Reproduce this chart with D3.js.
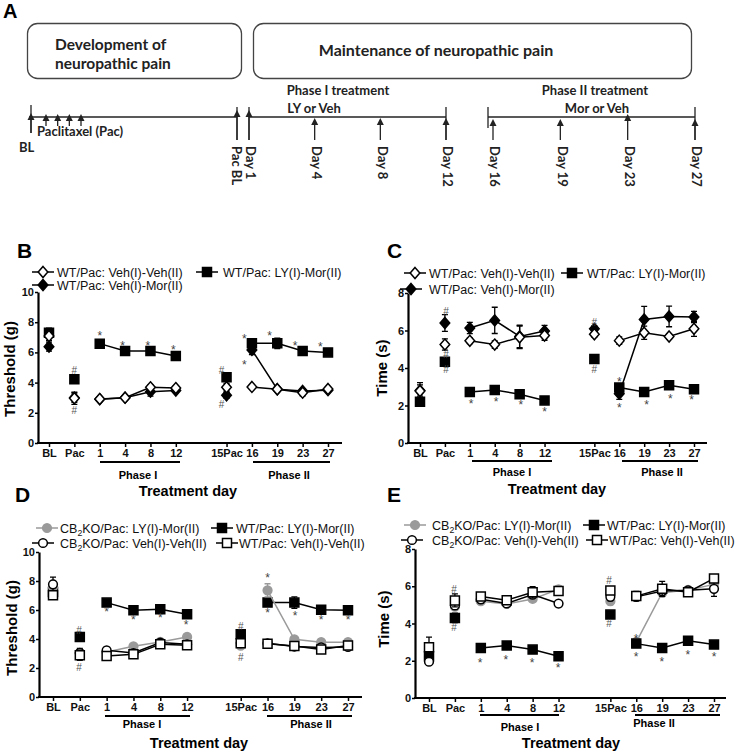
<!DOCTYPE html>
<html>
<head>
<meta charset="utf-8">
<script src="https://cdn.jsdelivr.net/npm/d3@7"></script>
<style>
body { margin: 0; background: #fff; }
svg { display: block; font-family: "Liberation Sans", Arial, sans-serif; }
.sch { font-family: Lato, "Open Sans", sans-serif; font-weight: 700; fill: #222; }
</style>
</head>
<body>
<div class="container"></div>
<script>
// ---- data ----
const dayLabels = ["BL", "Pac", "1", "4", "8", "12", "15Pac", "16", "19", "23", "27"];
const daySlots = [0, 1, 2, 3, 4, 5, 7, 8, 9, 10, 11]; // gap between 12 and 15Pac
const phaseOne = [2, 3, 4, 5];   // indices that get joined by a line
const phaseTwo = [7, 8, 9, 10];

// panel B: threshold (g)
const bVehVeh = [7.08, 2.96, 2.91, 3.0, 3.69, 3.64, 3.69, 3.71, 3.56, 3.33, 3.58];
const bVehVehErr = [0.3, 0.4, 0.1, 0.1, 0.15, 0.15, 0.25, 0.1, 0.1, 0.2, 0.1];
const bVehMor = [6.38, 3.0, 2.9, 3.0, 3.4, 3.47, 3.16, 6.16, 3.56, 3.45, 3.5];
const bVehMorErr = [0.3, 0.3, 0.1, 0.1, 0.3, 0.1, 0.2, 0.3, 0.1, 0.15, 0.1];
const bLyMor = [7.3, 4.22, 6.58, 6.09, 6.09, 5.76, 4.35, 6.6, 6.6, 6.09, 6.0];
const bLyMorErr = [0.3, 0.15, 0.1, 0.1, 0.1, 0.1, 0.2, 0.2, 0.35, 0.1, 0.15];
const bStars = [[2, 7.28], [2.9, 6.62], [3.9, 6.62], [4.9, 6.3], [7.7, 7.08], [7.7, 5.36], [8.7, 7.28], [9.7, 6.62], [10.7, 6.56]];
const bHashes = [[1, 4.83], [1, 2.19], [6.8, 4.83], [6.8, 2.58]];

// panel C: time (s)
const cVehVeh = [2.77, 5.25, 5.45, 5.25, 5.64, 5.73, 5.8, 5.46, 5.88, 5.68, 6.09];
const cVehVehErr = [0.45, 0.3, 0.15, 0.2, 0.6, 0.25, 0.15, 0.2, 0.35, 0.15, 0.4];
const cVehMor = [2.8, 6.4, 6.13, 6.54, 5.68, 5.97, 6.09, 2.63, 6.59, 6.75, 6.72];
const cVehMorErr = [0.3, 0.45, 0.3, 0.7, 0.6, 0.3, 0.15, 0.3, 0.7, 0.55, 0.3];
const cLyMor = [2.2, 4.33, 2.72, 2.83, 2.6, 2.27, 4.48, 2.96, 2.72, 3.08, 2.87];
const cLyMorErr = [0.1, 0.2, 0.1, 0.1, 0.1, 0.1, 0.1, 0.15, 0.1, 0.1, 0.1];
const cStars = [[2.05, 2.2], [3.05, 2.3], [4.05, 2.17], [5, 1.8], [8, 3.38], [8, 1.99], [9.1, 2.15], [10.05, 2.48], [10.9, 2.42]];
const cHashes = [[1.05, 7.0], [1.05, 4.7], [1.05, 3.9], [7, 6.45], [7, 3.94]];

// panel D: threshold (g), CB2KO vs WT
const dKoLy = [7.6, 3.0, 3.1, 3.5, 3.8, 4.14, 3.55, 7.36, 3.98, 3.78, 3.78];
const dKoLyErr = [0.3, 0.2, 0.1, 0.1, 0.1, 0.15, 0.1, 0.45, 0.1, 0.1, 0.1];
const dKoVeh = [7.77, 3.05, 3.22, 3.03, 3.75, 3.63, 3.72, 3.7, 3.48, 3.42, 3.45];
const dKoVehErr = [0.5, 0.3, 0.2, 0.1, 0.1, 0.1, 0.1, 0.1, 0.1, 0.1, 0.1];
const dWtLy = [7.24, 4.14, 6.51, 5.98, 6.05, 5.7, 4.32, 6.51, 6.51, 6.02, 5.98];
const dWtLyErr = [0.3, 0.1, 0.1, 0.1, 0.1, 0.1, 0.15, 0.2, 0.4, 0.1, 0.1];
const dWtVeh = [7.01, 2.88, 2.83, 2.94, 3.63, 3.57, 3.7, 3.68, 3.52, 3.27, 3.55];
const dWtVehErr = [0.2, 0.35, 0.1, 0.15, 0.1, 0.1, 0.1, 0.1, 0.1, 0.15, 0.1];
const dStars = [[2, 6.05], [3, 5.5], [4, 5.63], [4.96, 5.15], [8, 8.39], [8, 5.98], [9.03, 5.77], [10, 5.5], [11, 5.5]];
const dHashes = [[0.97, 4.6], [0.97, 2.04], [7, 4.88], [7, 2.74]];

// panel E: time (s), CB2KO vs WT
const eKoLy = [2.2, 4.9, 5.2, 5.05, 5.32, 5.83, 5.2, 3.0, 5.65, 5.8, 6.1];
const eKoLyErr = [0.2, 0.2, 0.15, 0.1, 0.1, 0.2, 0.2, 0.2, 0.2, 0.15, 0.2];
const eKoVeh = [1.95, 4.97, 5.3, 5.08, 5.55, 5.07, 5.43, 5.43, 5.74, 5.78, 5.86];
const eKoVehErr = [0.2, 0.2, 0.2, 0.15, 0.15, 0.15, 0.2, 0.15, 0.2, 0.15, 0.4];
const eWtLy = [2.24, 4.3, 2.68, 2.82, 2.6, 2.24, 4.48, 2.92, 2.68, 3.07, 2.87];
const eWtLyErr = [0.2, 0.25, 0.1, 0.1, 0.1, 0.1, 0.1, 0.1, 0.1, 0.1, 0.1];
const eWtVeh = [2.72, 5.24, 5.45, 5.25, 5.68, 5.74, 5.77, 5.47, 5.86, 5.68, 6.42];
const eWtVehErr = [0.55, 0.35, 0.15, 0.1, 0.3, 0.15, 0.15, 0.25, 0.4, 0.15, 0.1];
const eStars = [[1.97, 2.02], [2.97, 2.18], [3.98, 2.02], [4.98, 1.75], [7.99, 3.31], [7.99, 2.35], [8.99, 2.08], [9.99, 2.45], [11, 2.35]];
const eHashes = [[0.97, 5.85], [0.97, 3.78], [6.95, 6.3], [6.95, 3.99]];

// panel A: schedule
const injections = ["Pac 1", "Pac 2", "Pac 3", "Pac 4"];
const phaseOneDays = ["Day 1", "Day 4", "Day 8", "Day 12"];
const phaseTwoDays = ["Day 16", "Day 19", "Day 23", "Day 27"];

const width = 743, height = 754;
const svg = d3.select(".container").append("svg")
              .attr("width", width)
              .attr("height", height);

// ---------- panel A ----------
function arrow(g, x, tip, end) {
    g.append("line").attr("x1", x).attr("x2", x).attr("y1", tip + 5).attr("y2", end)
     .attr("stroke", "#222").attr("stroke-width", 1.3);
    g.append("path").attr("d", `M${x},${tip}L${x + 3.5},${tip + 7}L${x - 3.5},${tip + 7}Z`)
     .attr("fill", "#222");
}
function tick(g, x, y1, y2) {
    g.append("line").attr("x1", x).attr("x2", x).attr("y1", y1).attr("y2", y2)
     .attr("stroke", "#222").attr("stroke-width", 1.3);
}
function dayText(g, x, label) {
    g.append("text").attr("class", "sch")
     .attr("transform", `translate(${x + 2},146) rotate(90)`)
     .attr("dy", "0.35em").attr("font-size", 13).text(label);
}
{
    const g = svg.append("g");
    g.append("text").attr("x", 3).attr("y", 18).attr("font-size", 20).attr("font-weight", "bold").text("A");
    g.append("rect").attr("x", 27.5).attr("y", 23.5).attr("width", 214).attr("height", 55).attr("rx", 10)
     .attr("fill", "none").attr("stroke", "#444").attr("stroke-width", 1.3);
    g.append("rect").attr("x", 253.5).attr("y", 23.5).attr("width", 438).attr("height", 55).attr("rx", 10)
     .attr("fill", "none").attr("stroke", "#444").attr("stroke-width", 1.3);
    g.append("text").attr("class", "sch").attr("x", 55).attr("y", 50).attr("font-size", 15.5).text("Development of");
    g.append("text").attr("class", "sch").attr("x", 55).attr("y", 69).attr("font-size", 15.5).text("neuropathic pain");
    g.append("text").attr("class", "sch").attr("x", 436).attr("y", 56).attr("font-size", 16)
     .attr("text-anchor", "middle").text("Maintenance of neuropathic pain");

    const xInj = d3.scalePoint().domain(injections).range([46, 81]);
    const xP1 = d3.scalePoint().domain(phaseOneDays).range([249, 446]);
    const xP2 = d3.scalePoint().domain(phaseTwoDays).range([493, 695]);

    // timelines
    [[29, 237], [xP1("Day 1"), xP1("Day 12")], [488, xP2("Day 27")]].forEach(([a, b]) => {
        g.append("line").attr("x1", a).attr("x2", b).attr("y1", 117).attr("y2", 117)
         .attr("stroke", "#222").attr("stroke-width", 1.3);
    });
    // baseline
    tick(g, 31, 105, 133);
    arrow(g, 31, 113, 133);
    injections.forEach(d => arrow(g, xInj(d), 114, 126));
    g.append("text").attr("class", "sch").attr("x", 37).attr("y", 136).attr("font-size", 13).text("Paclitaxel  (Pac)");
    g.append("text").attr("class", "sch").attr("x", 19).attr("y", 152).attr("font-size", 13).text("BL");
    // Pac BL
    tick(g, 237, 107, 140);
    arrow(g, 237, 110, 140);
    dayText(g, 235, "Pac BL");
    // phase I
    phaseOneDays.forEach((d, i) => {
        const x = xP1(d);
        if (i === 0 || i === 3) tick(g, x, 107, 140);
        arrow(g, x, i === 0 ? 110 : 118, 140);
        dayText(g, x, d);
    });
    // phase II
    tick(g, 488, 107, 128);
    phaseTwoDays.forEach((d, i) => {
        const x = xP2(d);
        if (i === 3) tick(g, x, 107, 140);
        arrow(g, x, i === 2 ? 114 : 119, 140);
        dayText(g, x, d);
    });
    g.append("text").attr("class", "sch").attr("x", 338).attr("y", 95).attr("font-size", 13)
     .attr("text-anchor", "middle").text("Phase I treatment");
    g.append("text").attr("class", "sch").attr("x", 314).attr("y", 113).attr("font-size", 13)
     .attr("text-anchor", "middle").text("LY or Veh");
    g.append("text").attr("class", "sch").attr("x", 595).attr("y", 95).attr("font-size", 13)
     .attr("text-anchor", "middle").text("Phase II treatment");
    g.append("text").attr("class", "sch").attr("x", 597).attr("y", 113).attr("font-size", 13)
     .attr("text-anchor", "middle").text("Mor or Veh");
}

// ---------- markers ----------
const GRAY = "#9a9a9a";
const markers = {
    square: d3.symbol(d3.symbolSquare, 81)(),
    circle: d3.symbol(d3.symbolCircle, 60)(),
    diamond: "M0,-5.5L4.8,0L0,5.5L-4.8,0Z"
};
function marker(sel, s) {
    sel.attr("d", markers[s.shape])
       .attr("fill", s.fill)
       .attr("stroke", s.stroke)
       .attr("stroke-width", 1.5);
}
function labelText(sel, label, size) {
    // "CB2KO" gets a subscript 2
    const parts = label.split("CB2");
    if (parts.length === 1) { sel.text(label); return; }
    sel.append("tspan").text("CB");
    sel.append("tspan").attr("font-size", size * 0.7).attr("dy", 3).text("2");
    sel.append("tspan").attr("dy", -3).text(parts[1]);
}

// ---------- chart panels ----------
function drawPanel(p) {
    const g = svg.append("g");
    const x = d3.scaleLinear().domain([0, 11]).range([p.xFirst, p.xLast]);
    const y = d3.scaleLinear().domain([0, p.yMax]).range([p.y0, p.yTop]);

    g.append("text").attr("x", p.letter[1]).attr("y", p.letter[2])
     .attr("font-size", 21).attr("font-weight", "bold").text(p.letter[0]);

    // y axis
    const yAxis = d3.axisLeft(y).tickValues(d3.range(0, p.yMax + 1, 2))
                    .tickSize(3).tickSizeOuter(0).tickPadding(1);
    const ya = g.append("g").attr("transform", `translate(${p.axisX},0)`).call(yAxis);
    ya.select(".domain").attr("stroke-width", 2.2);
    ya.selectAll(".tick line").attr("stroke-width", 1.5);
    ya.selectAll("text").attr("font-size", 11).attr("font-weight", "bold").attr("fill", "#111");

    // x axis
    const xAxis = d3.axisBottom(x).tickValues(daySlots)
                    .tickFormat((d, i) => dayLabels[i]).tickSize(4).tickPadding(2);
    const xa = g.append("g").attr("transform", `translate(0,${p.y0})`).call(xAxis);
    xa.select(".domain").remove();
    xa.append("line").attr("x1", p.axisX - 1).attr("x2", p.xEnd).attr("stroke", "#000").attr("stroke-width", 2.2);
    xa.selectAll(".tick line").attr("stroke-width", 1.5);
    xa.selectAll("text").attr("font-size", 11).attr("font-weight", "bold").attr("fill", "#111");

    // phase underlines
    p.phases.forEach(ph => {
        g.append("line").attr("x1", ph.x1).attr("x2", ph.x2).attr("y1", ph.y).attr("y2", ph.y)
         .attr("stroke", "#000").attr("stroke-width", 2);
        g.append("text").attr("x", ph.tx).attr("y", ph.ty).attr("dy", "0.35em")
         .attr("text-anchor", "middle").attr("font-size", 11).attr("font-weight", "bold").text(ph.label);
    });
    g.append("text").attr("x", p.xTitle[0]).attr("y", p.xTitle[1]).attr("dy", "0.35em")
     .attr("text-anchor", "middle").attr("font-size", 14.5).attr("font-weight", "bold").text("Treatment day");
    g.append("text").attr("transform", `translate(${p.yTitle[0]},${p.yTitle[1]}) rotate(-90)`)
     .attr("dy", "0.35em").attr("text-anchor", "middle").attr("font-size", 15)
     .attr("font-weight", "bold").text(p.yLabel);

    // series
    const line = d3.line().x(i => x(daySlots[i]));
    p.series.forEach(s => {
        const sg = g.append("g");
        const cap = 3;
        s.values.forEach((v, i) => {
            const cx = x(daySlots[i]);
            const e = s.err[i];
            sg.append("path")
              .attr("d", `M${cx},${y(v - e)}V${y(v + e)}M${cx - cap},${y(v + e)}H${cx + cap}M${cx - cap},${y(v - e)}H${cx + cap}`)
              .attr("stroke", s.lineColor).attr("stroke-width", 1.3).attr("fill", "none");
        });
        [phaseOne, phaseTwo].forEach(seg => {
            sg.append("path").attr("d", line.y(i => y(s.values[i]))(seg))
              .attr("fill", "none").attr("stroke", s.lineColor).attr("stroke-width", 1.5);
        });
        sg.selectAll(".mk").data(s.values).join("path").attr("class", "mk")
          .attr("transform", (v, i) => `translate(${x(daySlots[i])},${y(v)})`)
          .call(marker, s);
    });

    // significance marks
    g.selectAll(".star").data(p.stars).join("text").attr("class", "star")
     .attr("x", d => x(d[0])).attr("y", d => y(d[1])).attr("dy", "0.55em")
     .attr("text-anchor", "middle").attr("font-size", 12).attr("fill", "#444").text("*");
    g.selectAll(".hash").data(p.hashes).join("text").attr("class", "hash")
     .attr("x", d => x(d[0])).attr("y", d => y(d[1])).attr("dy", "0.36em")
     .attr("text-anchor", "middle").attr("font-size", 10).attr("fill", "#555").text("#");

    // legend
    p.legend.forEach(l => {
        const s = p.series[l.s];
        g.append("line").attr("x1", l.mx - 11).attr("x2", l.mx + 11).attr("y1", l.y).attr("y2", l.y)
         .attr("stroke", s.lineColor).attr("stroke-width", 1.5);
        g.append("path").attr("transform", `translate(${l.mx},${l.y})`).call(marker, s);
        g.append("text").attr("x", l.tx).attr("y", l.y).attr("dy", "0.36em")
         .attr("font-size", 12.5).attr("fill", "#111").call(labelText, s.name, 12.5);
    });
}

const openDiamond = {shape: "diamond", fill: "#fff", stroke: "#000", lineColor: "#000"};
const fullDiamond = {shape: "diamond", fill: "#000", stroke: "#000", lineColor: "#000"};
const fullSquare = {shape: "square", fill: "#000", stroke: "#000", lineColor: "#000"};
const openSquare = {shape: "square", fill: "#fff", stroke: "#000", lineColor: "#000"};
const grayCircle = {shape: "circle", fill: GRAY, stroke: GRAY, lineColor: GRAY};
const openCircle = {shape: "circle", fill: "#fff", stroke: "#000", lineColor: "#000"};

drawPanel({
    letter: ["B", 17, 258], axisX: 38, xFirst: 49, xLast: 328, xEnd: 342, y0: 443, yTop: 292, yMax: 10,
    yLabel: "Threshold (g)", yTitle: [10, 369], xTitle: [188, 491],
    phases: [{x1: 100, x2: 180, y: 462, label: "Phase I", tx: 138, ty: 475},
             {x1: 253, x2: 330, y: 462, label: "Phase II", tx: 289, ty: 475}],
    series: [
        Object.assign({name: "WT/Pac: Veh(I)-Mor(II)", values: bVehMor, err: bVehMorErr}, fullDiamond),
        Object.assign({name: "WT/Pac: LY(I)-Mor(II)", values: bLyMor, err: bLyMorErr}, fullSquare),
        Object.assign({name: "WT/Pac: Veh(I)-Veh(II)", values: bVehVeh, err: bVehVehErr}, openDiamond)
    ],
    legend: [{s: 2, mx: 43, tx: 57, y: 272}, {s: 1, mx: 207, tx: 223, y: 272}, {s: 0, mx: 43, tx: 57, y: 285}],
    stars: bStars, hashes: bHashes
});

drawPanel({
    letter: ["C", 387, 258], axisX: 408, xFirst: 420, xLast: 694, xEnd: 707, y0: 443, yTop: 293, yMax: 8,
    yLabel: "Time (s)", yTitle: [382, 368], xTitle: [557, 489],
    phases: [{x1: 472, x2: 552, y: 461, label: "Phase I", tx: 512, ty: 472},
             {x1: 622, x2: 698, y: 461, label: "Phase II", tx: 662, ty: 472}],
    series: [
        Object.assign({name: "WT/Pac: Veh(I)-Mor(II)", values: cVehMor, err: cVehMorErr}, fullDiamond),
        Object.assign({name: "WT/Pac: LY(I)-Mor(II)", values: cLyMor, err: cLyMorErr}, fullSquare),
        Object.assign({name: "WT/Pac: Veh(I)-Veh(II)", values: cVehVeh, err: cVehVehErr}, openDiamond)
    ],
    legend: [{s: 2, mx: 415, tx: 429, y: 273}, {s: 1, mx: 572, tx: 587, y: 273}, {s: 0, mx: 411, tx: 429, y: 289}],
    stars: cStars, hashes: cHashes
});

drawPanel({
    letter: ["D", 15, 502], axisX: 39, xFirst: 53, xLast: 348, xEnd: 362, y0: 697, yTop: 552, yMax: 10,
    yLabel: "Threshold (g)", yTitle: [12, 628], xTitle: [199, 743],
    phases: [{x1: 105, x2: 190, y: 716, label: "Phase I", tx: 142, ty: 724},
             {x1: 267, x2: 352, y: 716, label: "Phase II", tx: 311, ty: 724}],
    series: [
        Object.assign({name: "WT/Pac: LY(I)-Mor(II)", values: dWtLy, err: dWtLyErr}, fullSquare),
        Object.assign({name: "CB2KO/Pac: LY(I)-Mor(II)", values: dKoLy, err: dKoLyErr}, grayCircle),
        Object.assign({name: "CB2KO/Pac: Veh(I)-Veh(II)", values: dKoVeh, err: dKoVehErr}, openCircle),
        Object.assign({name: "WT/Pac: Veh(I)-Veh(II)", values: dWtVeh, err: dWtVehErr}, openSquare)
    ],
    legend: [{s: 1, mx: 47, tx: 60, y: 528}, {s: 0, mx: 222, tx: 236, y: 528},
             {s: 2, mx: 43, tx: 60, y: 543}, {s: 3, mx: 227, tx: 239, y: 543}],
    stars: dStars, hashes: dHashes
});

drawPanel({
    letter: ["E", 387, 502], axisX: 415, xFirst: 429, xLast: 714, xEnd: 726, y0: 698, yTop: 549, yMax: 8,
    yLabel: "Time (s)", yTitle: [384, 619], xTitle: [571, 743],
    phases: [{x1: 480, x2: 559, y: 715, label: "Phase I", tx: 520, ty: 727},
             {x1: 635, x2: 720, y: 715, label: "Phase II", tx: 654, ty: 723}],
    series: [
        Object.assign({name: "CB2KO/Pac: LY(I)-Mor(II)", values: eKoLy, err: eKoLyErr}, grayCircle),
        Object.assign({name: "WT/Pac: LY(I)-Mor(II)", values: eWtLy, err: eWtLyErr}, fullSquare),
        Object.assign({name: "CB2KO/Pac: Veh(I)-Veh(II)", values: eKoVeh, err: eKoVehErr}, openCircle),
        Object.assign({name: "WT/Pac: Veh(I)-Veh(II)", values: eWtVeh, err: eWtVehErr}, openSquare)
    ],
    legend: [{s: 0, mx: 415, tx: 432, y: 525}, {s: 1, mx: 594, tx: 607, y: 525},
             {s: 2, mx: 412, tx: 432, y: 540}, {s: 3, mx: 597, tx: 609, y: 540}],
    stars: eStars, hashes: eHashes
});
</script>
</body>
</html>
